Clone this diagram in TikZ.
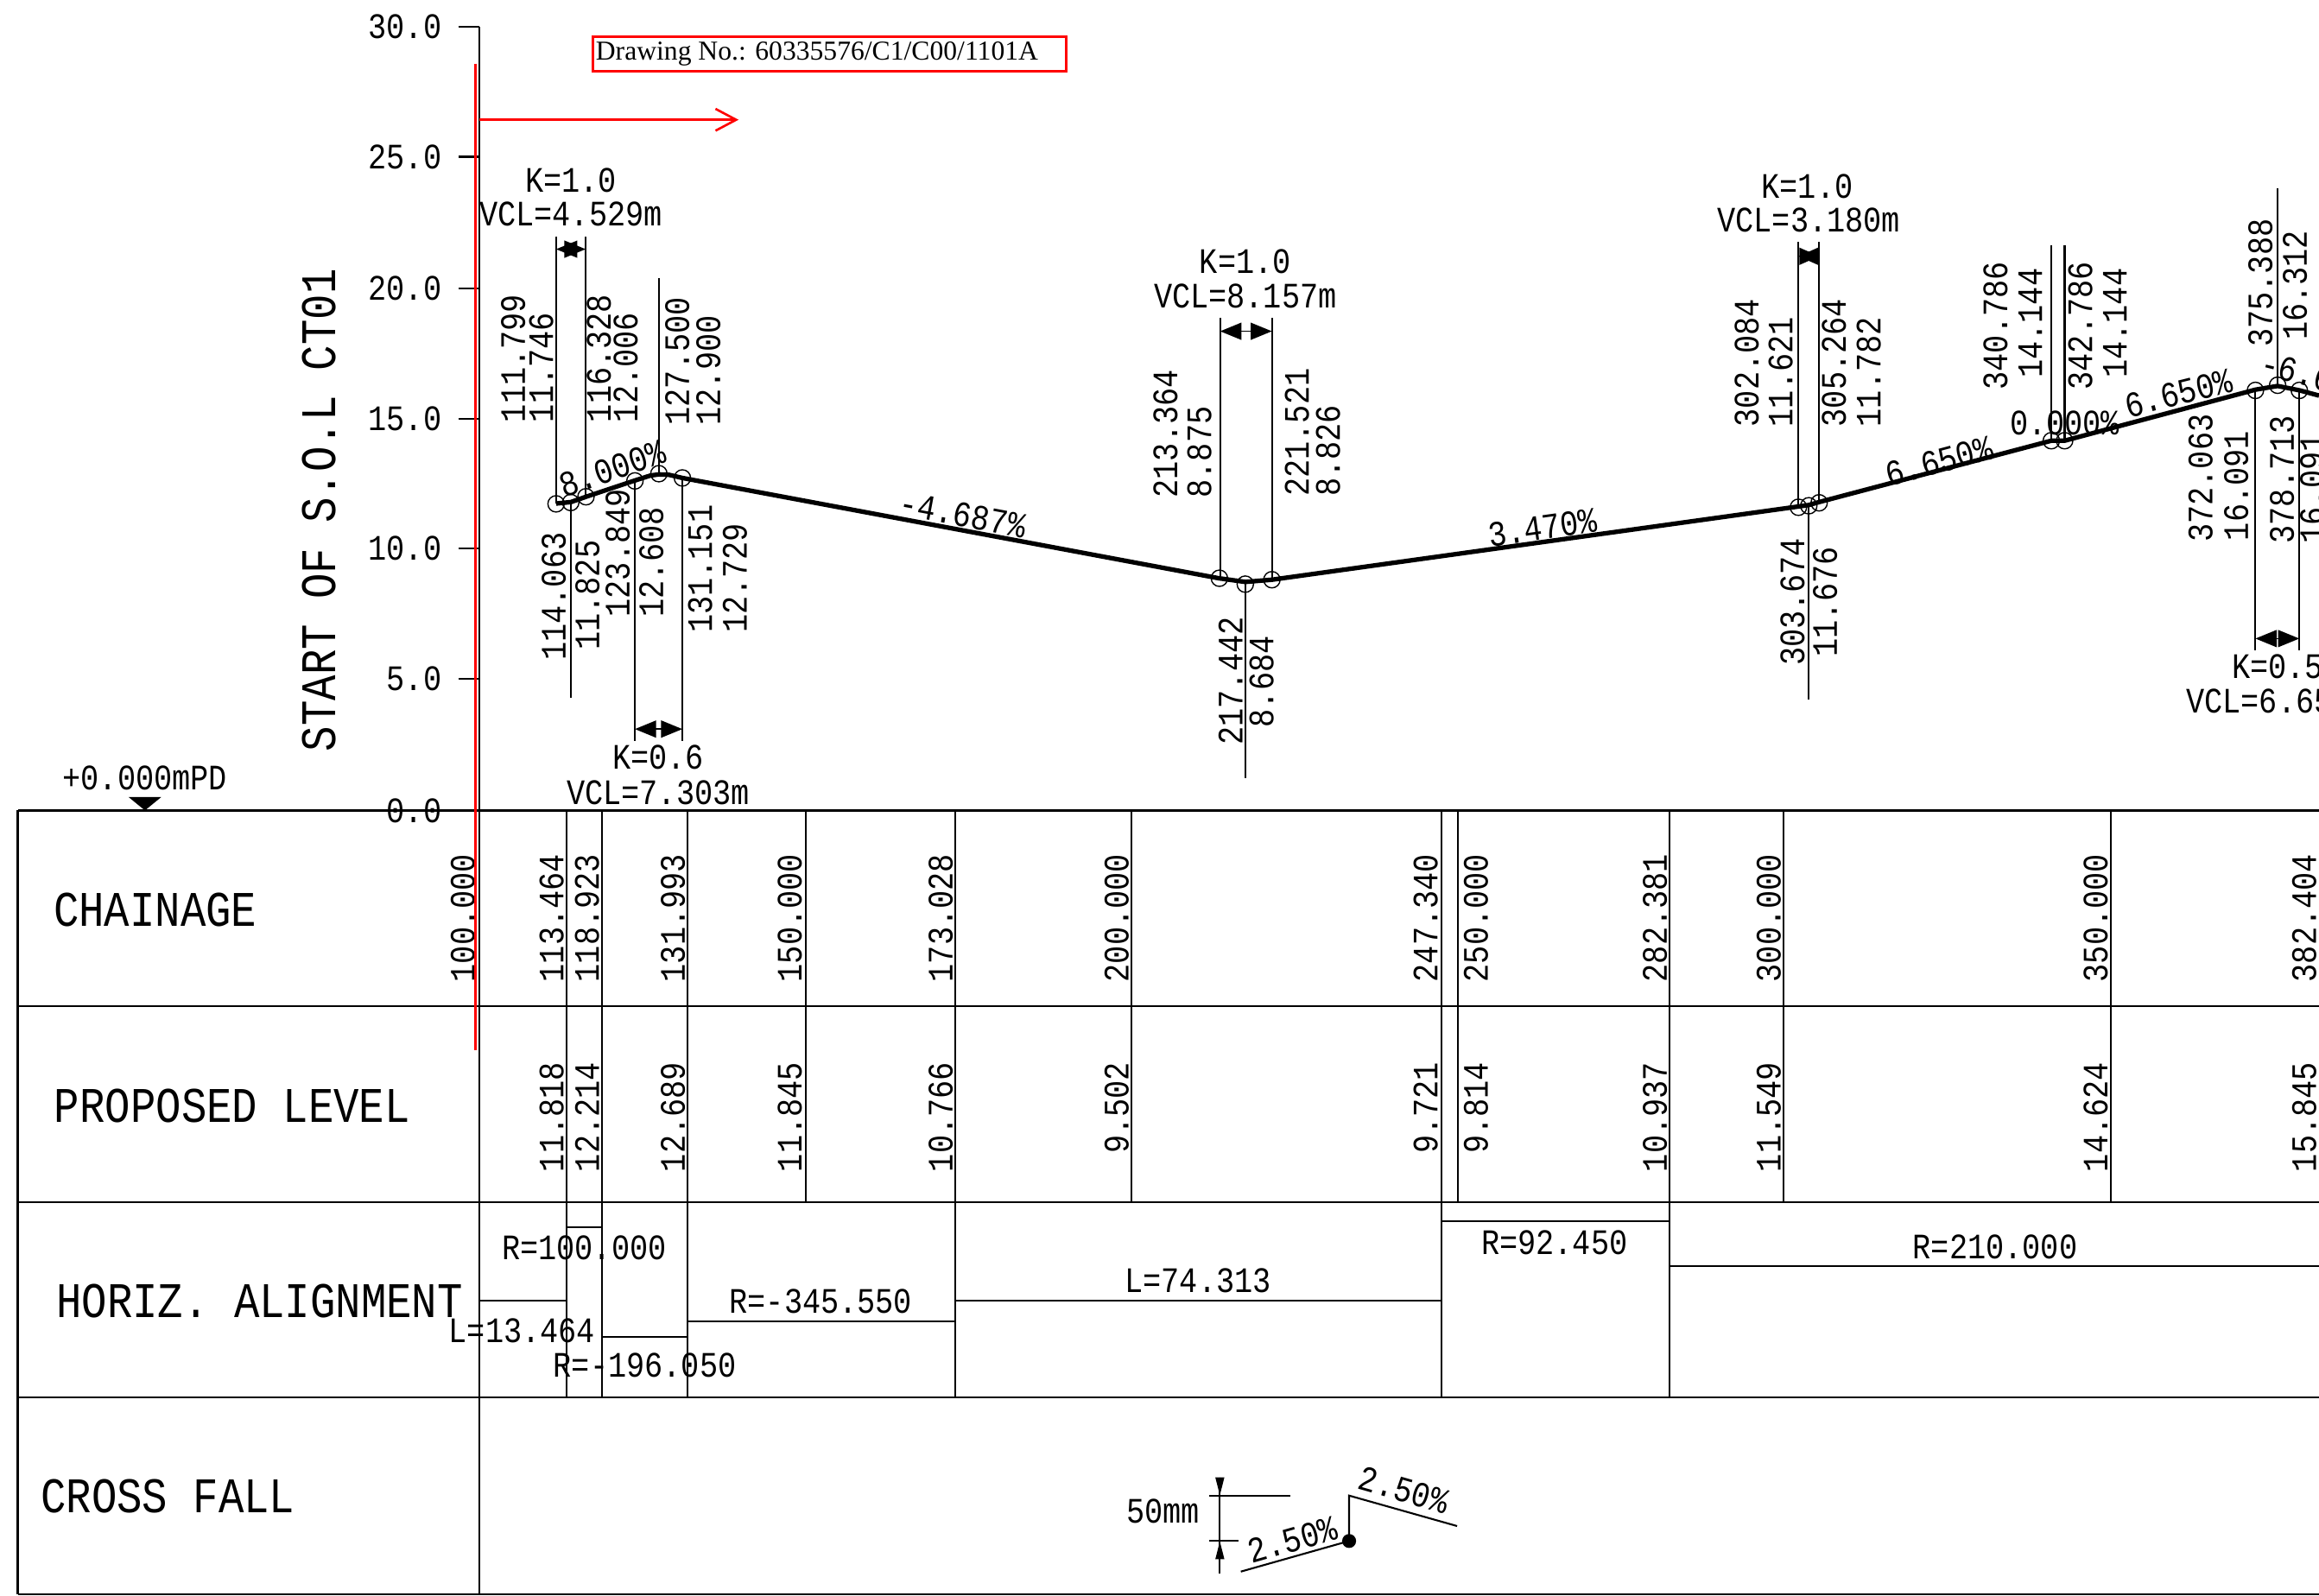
\documentclass[tikz,border=0pt]{standalone}
\usepackage{fontspec}
\usetikzlibrary{arrows.meta}
\newfontfamily\cadfont[FakeStretch=0.85]{Liberation Mono}
\newfontfamily\notefont{Liberation Serif}

\begin{document}
\begin{tikzpicture}[x=0.017124cm,y=-0.017124cm,
    thinline/.style={black,line width=0.6pt},
    gridline/.style={black,line width=0.7pt},
    gradeline/.style={black,line width=1.5pt,line join=round},
    ipcircle/.style={black,line width=0.4pt},
    dimarrow/.style={{Triangle[length=7pt,width=5.6pt]}-{Triangle[length=7pt,width=5.6pt]},black,line width=0.5pt},
    shortarrow/.style={{Triangle[length=6.5pt,width=5.6pt]}-{Triangle[length=6.5pt,width=5.6pt]},black,line width=0.5pt},
    lbl/.style={font=\cadfont\fontsize{11.8}{14}\selectfont,inner sep=0pt,text=black},
    vlbl/.style={lbl,rotate=90},
    vbase/.style={vlbl,anchor=west},
    chainlbl/.style={vlbl,anchor=west},
    levellbl/.style={vlbl,anchor=east},
    ticklbl/.style={lbl,anchor=east},
    headlbl/.style={font=\cadfont\fontsize{16.4}{20}\selectfont,inner sep=0pt},
    redline/.style={red,line width=0.75pt},
]
    \useasboundingbox (0,0) rectangle (1568,1079);
    \clip (0,0) rectangle (1568,1079);

    % level axis
    \draw[gridline] (324,18)--(324,1078);
    \draw[thinline] (310,18)--(324,18);
    \draw[thinline] (310,106)--(324,106);
    \draw[thinline] (310,195)--(324,195);
    \draw[thinline] (310,283)--(324,283);
    \draw[thinline] (310,371)--(324,371);
    \draw[thinline] (310,459)--(324,459);
    \draw[thinline] (310,548)--(324,548);
    \node[ticklbl] (lev30) at (299,18) {30.0};
    \node[ticklbl] (lev25) at (299,106) {25.0};
    \node[ticklbl] (lev20) at (299,195) {20.0};
    \node[ticklbl] (lev15) at (299,283) {15.0};
    \node[ticklbl] (lev10) at (299,371) {10.0};
    \node[ticklbl] (lev5) at (299,459) {5.0};
    \node[ticklbl] (lev0) at (299,548) {0.0};
    \node[headlbl,rotate=90] (startlbl) at (216,345) {START OF S.O.L CT01};
    \node[lbl] (datumlbl) at (98,526) {+0.000mPD};
    \fill[black] (87,539)--(109,539)--(98,548)--cycle;

    % table
    \draw[gridline] (12,548)--(1568,548);
    \draw[gridline] (12,680.5)--(1568,680.5);
    \draw[gridline] (12,813)--(1568,813);
    \draw[gridline] (12,945)--(1568,945);
    \draw[gridline] (12,1078)--(1568,1078);
    \draw[gridline] (12,548)--(12,1078);
    \node[headlbl] (rowchain) at (105,615) {CHAINAGE};
    \node[headlbl] (rowlevel) at (157,748) {PROPOSED LEVEL};
    \node[headlbl] (rowhoriz) at (175.5,880) {HORIZ. ALIGNMENT};
    \node[headlbl] (rowcross) at (113.5,1012) {CROSS FALL};

    \draw[thinline] (383,548)--(383,945);
    \draw[thinline] (407,548)--(407,945);
    \draw[thinline] (465,548)--(465,945);
    \draw[thinline] (545,548)--(545,813);
    \draw[thinline] (646,548)--(646,945);
    \draw[thinline] (765,548)--(765,813);
    \draw[thinline] (974.5,548)--(974.5,945);
    \draw[thinline] (986,548)--(986,813);
    \draw[thinline] (1129,548)--(1129,945);
    \draw[thinline] (1206,548)--(1206,813);
    \draw[thinline] (1427,548)--(1427,813);

    \node[chainlbl] (ch100) at (313,664.5) {100.000};
    \node[chainlbl] (ch113) at (373,664.5) {113.464};
    \node[chainlbl] (ch118) at (397,664.5) {118.923};
    \node[chainlbl] (ch131) at (455,664.5) {131.993};
    \node[chainlbl] (ch150) at (534,664.5) {150.000};
    \node[chainlbl] (ch173) at (636,664.5) {173.028};
    \node[chainlbl] (ch200) at (755,664.5) {200.000};
    \node[chainlbl] (ch247) at (964,664.5) {247.340};
    \node[chainlbl] (ch250) at (998,664.5) {250.000};
    \node[chainlbl] (ch282) at (1119,664.5) {282.381};
    \node[chainlbl] (ch300) at (1196,664.5) {300.000};
    \node[chainlbl] (ch350) at (1417,664.5) {350.000};
    \node[chainlbl] (ch382) at (1558,664.5) {382.404};

    \node[levellbl] (lv113) at (373,718) {11.818};
    \node[levellbl] (lv118) at (397,718) {12.214};
    \node[levellbl] (lv131) at (455,718) {12.689};
    \node[levellbl] (lv150) at (534,718) {11.845};
    \node[levellbl] (lv173) at (636,718) {10.766};
    \node[levellbl] (lv200) at (755,718) {9.502};
    \node[levellbl] (lv247) at (964,718) {9.721};
    \node[levellbl] (lv250) at (998,718) {9.814};
    \node[levellbl] (lv282) at (1119,718) {10.937};
    \node[levellbl] (lv300) at (1196,718) {11.549};
    \node[levellbl] (lv350) at (1417,718) {14.624};
    \node[levellbl] (lv382) at (1558,718) {15.845};

    % horizontal alignment
    \draw[thinline] (324,879.5)--(383,879.5)--(383,830)--(407,830)--(407,904)--(465,904)--(465,893.6)--(646,893.6)--(646,879.5)--(974.5,879.5)--(974.5,826)--(1129,826)--(1129,856)--(1568,856);
    \node[lbl] (alnr100) at (395,844) {R=100.000};
    \node[lbl] (alnl13) at (353,900) {L=13.464};
    \node[lbl] (alnr196) at (436,923) {R=-196.050};
    \node[lbl] (alnr345) at (555,880) {R=-345.550};
    \node[lbl] (alnl74) at (810,866) {L=74.313};
    \node[lbl] (alnr92) at (1051,840) {R=92.450};
    \node[lbl] (alnr210) at (1349,843) {R=210.000};

    % cross fall sketch
    \coordinate (dimtop) at (824.8,999);
    \coordinate (dimupper) at (824.8,1011.3);
    \coordinate (dimlower) at (824.8,1042);
    \coordinate (dimbot) at (824.8,1064);
    \draw[thinline] (817.4,1011.3)--(872.3,1011.3);
    \draw[thinline] (817.4,1042)--(837.6,1042);
    \draw[thinline] (dimtop)--(dimbot);
    \draw[-{Triangle[length=6pt,width=2.8pt]},thinline] (dimtop)--(dimupper);
    \draw[-{Triangle[length=6pt,width=2.8pt]},thinline] (dimbot)--(dimlower);
    \draw[thinline] (839,1062.7)--(912.2,1042)--(912.2,1011.3)--(985.2,1031.9);
    \fill[black] (912.2,1042) circle (2.3pt);
    \node[lbl] (fall50) at (786.5,1021.7) {50mm};
    \node[lbl,rotate=16] (fallleft) at (873.8,1041.3) {2.50\%};
    \node[lbl,rotate=-16] (fallright) at (949.2,1007.6) {2.50\%};

    % leader lines
    \draw[thinline] (376,160)--(376,340.5);
    \draw[thinline] (396,160)--(396,336);
    \draw[thinline] (445.5,188)--(445.5,320);
    \draw[thinline] (385.9,340)--(385.9,472);
    \draw[thinline] (429.3,325)--(429.3,501);
    \draw[thinline] (461.4,323)--(461.4,501);
    \draw[thinline] (825,215)--(825,391);
    \draw[thinline] (860,215)--(860,392);
    \draw[thinline] (842,395)--(842,526);
    \draw[thinline] (1216,163.6)--(1216,343);
    \draw[thinline] (1230,163.6)--(1230,340);
    \draw[thinline] (1223,342)--(1223,473);
    \draw[thinline] (1387,166)--(1387,298);
    \draw[thinline] (1396,166)--(1396,298);
    \draw[thinline] (1540,127.3)--(1540,260);
    \draw[thinline] (1525,264)--(1525,440);
    \draw[thinline] (1554.7,264)--(1554.7,440);

    % grade line
    \draw[gradeline] (376,340.5)--(386,339.5)--(396,336)--(429,325)--(440,321.5)--(445.5,320.8)--(452,321)--(461.4,323.2)--(824,391)--(842,393.5)--(860,392)--(1216,342.5)--(1223,341.5)--(1230,339.5)--(1387,298)--(1396,298)--(1525,263.5)--(1540,261)--(1555,264)--(1568,267.5);

    \draw[ipcircle] (376,340.7) circle (2.7pt);
    \draw[ipcircle] (385.9,339.8) circle (2.7pt);
    \draw[ipcircle] (396.2,335.9) circle (2.7pt);
    \draw[ipcircle] (429.3,325.2) circle (2.7pt);
    \draw[ipcircle] (445.5,320.3) circle (2.7pt);
    \draw[ipcircle] (461.4,323.2) circle (2.7pt);
    \draw[ipcircle] (824.5,391) circle (2.7pt);
    \draw[ipcircle] (842,395) circle (2.7pt);
    \draw[ipcircle] (860,392) circle (2.7pt);
    \draw[ipcircle] (1216,343) circle (2.7pt);
    \draw[ipcircle] (1223,342) circle (2.7pt);
    \draw[ipcircle] (1230,340) circle (2.7pt);
    \draw[ipcircle] (1387,298) circle (2.7pt);
    \draw[ipcircle] (1396,298) circle (2.7pt);
    \draw[ipcircle] (1525,264) circle (2.7pt);
    \draw[ipcircle] (1540,260.5) circle (2.7pt);
    \draw[ipcircle] (1554.7,264) circle (2.7pt);

    % grades
    \node[lbl,rotate=19] (gr8) at (414,317) {8.000\%};
    \node[lbl,rotate=-10.6] (gr4) at (651,348) {-4.687\%};
    \node[lbl,rotate=8] (gr3) at (1043,357) {3.470\%};
    \node[lbl,rotate=15] (gr6a) at (1311,312) {6.650\%};
    \node[lbl] (gr0) at (1396,286) {0.000\%};
    \node[lbl,rotate=14] (gr6b) at (1473,266) {6.650\%};
    \node[lbl,rotate=-14] (gr6c) at (1571,256) {-6.650\%};

    % curve spans
    \coordinate (vca) at (376,168.5);
    \coordinate (vcb) at (396,168.5);
    \coordinate (vcc) at (429.3,493);
    \coordinate (vcd) at (461.4,493);
    \coordinate (vce) at (825,224);
    \coordinate (vcf) at (860,224);
    \coordinate (vcg) at (1216,173.3);
    \coordinate (vch) at (1230,173.3);
    \coordinate (vci) at (1525,431.8);
    \coordinate (vcj) at (1554.7,431.8);
    \draw[dimarrow] (vca)--(vcb);
    \draw[dimarrow] (vcc)--(vcd);
    \draw[dimarrow] (vce)--(vcf);
    \draw[shortarrow] (vcg)--(vch);
    \draw[dimarrow] (vci)--(vcj);

    \node[lbl] (ka) at (386,122) {K=1.0};
    \node[lbl] (vcla) at (386,145) {VCL=4.529m};
    \node[lbl] (kb) at (445,512) {K=0.6};
    \node[lbl] (vclb) at (445,536) {VCL=7.303m};
    \node[lbl] (kc) at (842,177) {K=1.0};
    \node[lbl] (vclc) at (842,200) {VCL=8.157m};
    \node[lbl] (kd) at (1222,126) {K=1.0};
    \node[lbl] (vcld) at (1223,149) {VCL=3.180m};
    \node[lbl] (ke) at (1540,451) {K=0.5};
    \node[lbl] (vcle) at (1540,474) {VCL=6.650m};

    % point labels
    \node[vbase] (pt111) at (347,286) {111.799};
    \node[vbase] (pt111b) at (366,286) {11.746};
    \node[vbase] (pt116) at (405,286) {116.328};
    \node[vbase] (pt116b) at (423,286) {12.006};
    \node[vbase] (pt127) at (458,288) {127.500};
    \node[vbase] (pt127b) at (479,288) {12.900};
    \node[vbase] (pt114) at (374.4,447) {114.063};
    \node[vbase] (pt114b) at (397.2,440) {11.825};
    \node[vbase] (pt123) at (417.6,417.6) {123.849};
    \node[vbase] (pt123b) at (440.4,417.6) {12.608};
    \node[vbase] (pt131) at (473.5,428.4) {131.151};
    \node[vbase] (pt131b) at (496.9,428.4) {12.729};
    \node[vbase] (pt213) at (788,337) {213.364};
    \node[vbase] (pt213b) at (811,337) {8.875};
    \node[vbase] (pt221) at (877,336) {221.521};
    \node[vbase] (pt221b) at (898,336) {8.826};
    \node[vlbl] (pt217) at (832,460.5) {217.442};
    \node[vlbl] (pt217b) at (853,461) {8.684};
    \node[vbase] (pt302) at (1181,289) {302.084};
    \node[vbase] (pt302b) at (1204,289) {11.621};
    \node[vbase] (pt305) at (1240,289) {305.264};
    \node[vbase] (pt305b) at (1263.5,289) {11.782};
    \node[vlbl] (pt303) at (1212,407) {303.674};
    \node[vlbl] (pt303b) at (1234,407) {11.676};
    \node[vbase] (pt340) at (1349.3,264) {340.786};
    \node[vbase] (pt340b) at (1372.7,256) {14.144};
    \node[vbase] (pt342) at (1406.7,264) {342.786};
    \node[vbase] (pt342b) at (1430,256) {14.144};
    \node[vbase] (pt375) at (1528.4,235) {375.388};
    \node[vlbl] (pt375b) at (1551.8,193) {16.312};
    \node[vbase] (pt372) at (1488,367) {372.063};
    \node[vbase] (pt372b) at (1512,366) {16.091};
    \node[vbase] (pt378) at (1543,368) {378.713};
    \node[vbase] (pt378b) at (1563.5,368) {16.091};

    % review marks
    \node[draw=red,line width=0.8pt,inner xsep=1pt,inner ysep=0pt,minimum height=11.2pt,font=\notefont\fontsize{9}{11}\selectfont,anchor=west] (drawno) at (400,36.5) {\raisebox{-0.9pt}{\makebox[154pt][l]{Drawing No.: 60335576/C1/C00/1101A}}};
    \coordinate (markstart) at (324,81);
    \coordinate (markend) at (499.4,81);
    \draw[redline,-{Straight Barb[length=6.8pt,width=7.2pt]}] (markstart)--(markend);
    \draw[redline] (321.5,43)--(321.5,710);
\end{tikzpicture}
\end{document}
